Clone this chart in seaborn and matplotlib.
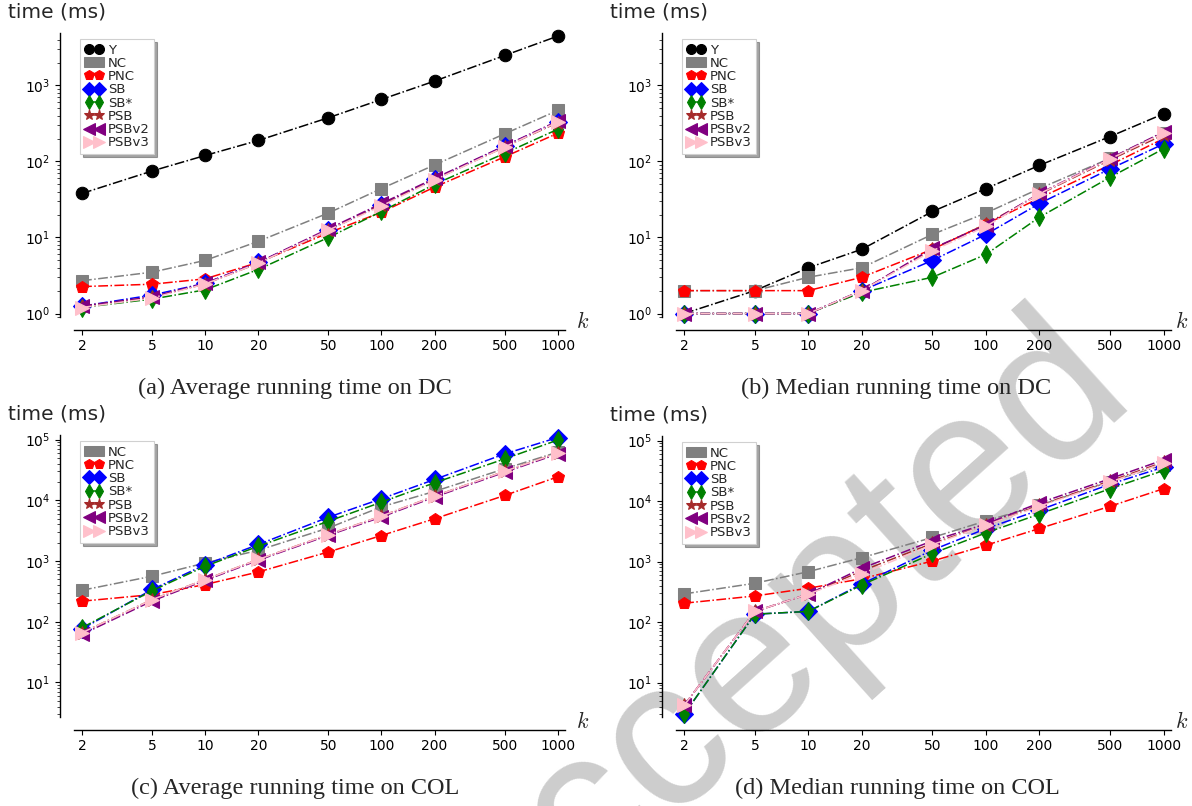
import matplotlib
matplotlib.use("Agg")
import matplotlib.pyplot as plt
import matplotlib.ticker as mticker
import seaborn as sns
import pandas as pd

sns.set_style("ticks")
plt.rcParams["font.family"] = ["DejaVu Sans"]
plt.rcParams["mathtext.fontset"] = "dejavusans"

k = [2, 5, 10, 20, 50, 100, 200, 500, 1000]
k_labels = ["2", "5", "10", "20", "50", "100", "200", "500", "1000"]

series = ["Y", "NC", "PNC", "SB", "SB*", "PSB", "PSBv2", "PSBv3"]
colors = {"Y": "black", "NC": "gray", "PNC": "red", "SB": "blue", "SB*": "green",
          "PSB": "brown", "PSBv2": "purple", "PSBv3": "pink"}
markers = {"Y": "o", "NC": "s", "PNC": "p", "SB": "D", "SB*": "d",
           "PSB": "*", "PSBv2": "<", "PSBv3": ">"}

# (a) average running time on DC
a_Y = [38, 75, 120, 189, 376, 655, 1140, 2480, 4450]
a_NC = [2.7, 3.5, 5.0, 8.9, 21, 44, 90, 231, 469]
a_PNC = [2.26, 2.43, 2.86, 4.7, 11.5, 21.5, 46, 115, 235]
a_SB = [1.25, 1.75, 2.5, 4.7, 12.5, 27, 58, 160, 330]
a_SBs = [1.2, 1.55, 2.05, 3.8, 10, 22, 50, 128, 265]
a_PSB = [1.25, 1.65, 2.45, 4.6, 12.5, 27, 58, 155, 325]
a_PSBv2 = [1.25, 1.65, 2.5, 4.7, 13, 28, 60, 160, 340]
a_PSBv3 = [1.2, 1.6, 2.45, 4.6, 12.5, 26, 57, 155, 330]

# (b) median running time on DC
b_Y = [1, 2, 4, 7, 22, 44, 89, 213, 424]
b_NC = [2, 2, 3, 4, 11, 21, 44, 110, 240]
b_PNC = [2, 2, 2, 3, 7, 15, 33, 90, 200]
b_SB = [1, 1, 1, 2, 5, 11, 28, 80, 170]
b_SBs = [1, 1, 1, 1.9, 3, 6, 18.5, 62, 147]
b_PSB = [1, 1, 1, 2, 7, 15, 37, 105, 225]
b_PSBv2 = [1, 1, 1, 2, 7.2, 14.5, 38, 110, 245]
b_PSBv3 = [1, 1, 1, 2, 6.7, 14, 37.6, 108, 236]

# (c) average running time on COL
c_NC = [330, 562, 930, 1500, 3500, 7800, 14000, 33000, 62000]
c_PNC = [218, 280, 410, 660, 1410, 2630, 4960, 12000, 24300]
c_SB = [76, 340, 870, 1870, 5260, 10600, 22000, 58000, 108000]
c_SBs = [80, 325, 820, 1750, 4520, 9300, 19400, 48000, 98000]
c_PSB = [66, 232, 495, 1060, 2730, 5500, 11700, 30000, 60000]
c_PSBv2 = [62, 220, 480, 1030, 2650, 5300, 11300, 29000, 58000]
c_PSBv3 = [66, 232, 495, 1060, 2730, 5500, 11700, 30000, 60000]

# (d) median running time on COL
d_NC = [292, 438, 680, 1160, 2500, 4700, 8500, 21000, 40000]
d_PNC = [205, 270, 362, 520, 1020, 1860, 3520, 8200, 16000]
d_SB = [3.0, 135, 150, 427, 1550, 3500, 7100, 19000, 36300]
d_SBs = [3.0, 135, 150, 410, 1360, 2980, 6100, 16000, 32000]
d_PSB = [4.2, 150, 290, 700, 2000, 4000, 8500, 21500, 44000]
d_PSBv2 = [4.2, 150, 290, 773, 2200, 4200, 9300, 23400, 48000]
d_PSBv3 = [4.2, 150, 290, 630, 1900, 4000, 8200, 20600, 42300]

panels = [
    dict(data={"Y": a_Y, "NC": a_NC, "PNC": a_PNC, "SB": a_SB, "SB*": a_SBs,
               "PSB": a_PSB, "PSBv2": a_PSBv2, "PSBv3": a_PSBv3},
         rect=(74, 33, 565, 317), caption="(a) Average running time on DC", cap=(295, 388)),
    dict(data={"Y": b_Y, "NC": b_NC, "PNC": b_PNC, "SB": b_SB, "SB*": b_SBs,
               "PSB": b_PSB, "PSBv2": b_PSBv2, "PSBv3": b_PSBv3},
         rect=(676, 33, 1171, 317), caption="(b) Median running time on DC", cap=(896, 388)),
    dict(data={"NC": c_NC, "PNC": c_PNC, "SB": c_SB, "SB*": c_SBs,
               "PSB": c_PSB, "PSBv2": c_PSBv2, "PSBv3": c_PSBv3},
         rect=(74, 435, 565, 717), caption="(c) Average running time on COL", cap=(295, 788)),
    dict(data={"NC": d_NC, "PNC": d_PNC, "SB": d_SB, "SB*": d_SBs,
               "PSB": d_PSB, "PSBv2": d_PSBv2, "PSBv3": d_PSBv3},
         rect=(676, 436, 1171, 717), caption="(d) Median running time on COL", cap=(897, 788)),
]

W, H = 1192, 806
fig = plt.figure(figsize=(W / 100, H / 100), dpi=100)

# watermark behind everything
fig.text(775 / W, 1 - 655 / H, "Accepted", rotation=42, fontsize=152, color="#cdcdcd",
         family="Liberation Sans", ha="center", va="center", zorder=-10,
         rotation_mode="anchor")

axes = []
for p in panels:
    l, t, r, b = p["rect"]
    ax = fig.add_axes([l / W, 1 - b / H, (r - l) / W, (b - t) / H])
    ax.patch.set_alpha(0)
    axes.append(ax)
    for name, vals in p["data"].items():
        df = pd.DataFrame({"k": k, "t": vals})
        c = colors[name]
        sns.lineplot(data=df, x="k", y="t", ax=ax, color=c, marker=markers[name],
                     linestyle="-.", linewidth=1.1,
                     markersize=9 if name not in ("PSBv2", "PSBv3", "PSB") else 10,
                     markeredgecolor=c, markerfacecolor=c, label=name, clip_on=False)
    ax.set_xscale("log")
    ax.set_yscale("log")
    ax.set_xlim(1.8, 1100)
    ax.set_xticks(k)
    ax.set_xticklabels(k_labels)
    ax.xaxis.set_minor_locator(mticker.NullLocator())
    ax.set_xlabel("")
    ax.set_ylabel("")
    ax.tick_params(labelsize=10, colors="black", length=3.5, width=0.8)
    ax.tick_params(which="minor", length=2, width=0.6)
    sns.despine(ax=ax)
    ax.spines["left"].set_position(("outward", 10))
    ax.spines["bottom"].set_position(("outward", 9))
    for s in ("left", "bottom"):
        ax.spines[s].set_color("black")
        ax.spines[s].set_linewidth(1.0)
    leg = ax.legend(loc="upper left", numpoints=2, fontsize=9.5, labelspacing=0.02,
                    handlelength=1.4, handletextpad=0.35, borderpad=0.35,
                    borderaxespad=0.45, markerscale=0.8, frameon=True, fancybox=False,
                    shadow=True, edgecolor="#d0d0d0", framealpha=1)
    leg.get_frame().set_linewidth(0.8)
    # caption, y label, k label
    fig.text(p["cap"][0] / W, 1 - p["cap"][1] / H, p["caption"], ha="center", va="center",
             fontsize=17.5, family="Liberation Serif")
    fig.text((l - 66) / W, 1 - (t - 21) / H, "time (ms)", ha="left", va="center", fontsize=14.5)
    fig.text(min(r + 18, W - 10) / W, 1 - (b + 5) / H, "$k$", ha="center", va="center",
             fontsize=16, math_fontfamily="cm")

# shared y limits per row
lo_ab = 0.9 * min(min(min(v) for v in panels[i]["data"].values()) for i in (0, 1))
hi_ab = 1.1 * max(max(max(v) for v in panels[i]["data"].values()) for i in (0, 1))
lo_cd = 0.9 * min(min(min(v) for v in panels[i]["data"].values()) for i in (2, 3))
hi_cd = 1.1 * max(max(max(v) for v in panels[i]["data"].values()) for i in (2, 3))
for i in (0, 1):
    axes[i].set_ylim(lo_ab, hi_ab)
for i in (2, 3):
    axes[i].set_ylim(lo_cd, hi_cd)

fig.savefig("out.png", dpi=100)
